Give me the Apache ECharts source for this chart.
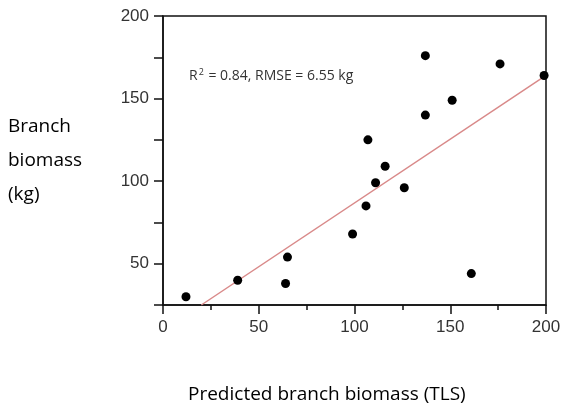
<!DOCTYPE html>
<html>
<head>
<meta charset="utf-8">
<script src="https://cdn.jsdelivr.net/npm/echarts@6/dist/echarts.min.js"></script>
<style>
html,body{margin:0;padding:0;background:#fff;}
#chart{width:566px;height:404px;}
</style>
</head>
<body>
<div id="chart"></div>
<script>
var predictedTLS = [12, 39, 65, 64, 99, 106, 107, 111, 116, 126, 137, 137, 151, 161, 176, 199];
var measuredBiomass = [30, 40, 54, 38, 68, 85, 125, 99, 109, 96, 140, 176, 149, 44, 171, 164];
var fitLineX = [20, 200];
var fitLineY = [25, 164];
var xTicks = [0, 50, 100, 150, 200];
var yTicks = [50, 100, 150, 200];
var xName = 'Predicted branch biomass (TLS)';
var yNameLines = ['Branch', 'biomass', '(kg)'];

var points = predictedTLS.map(function (x, i) { return [x, measuredBiomass[i]]; });
var fit = fitLineX.map(function (x, i) { return [x, fitLineY[i]]; });

var chart = echarts.init(document.getElementById('chart'));
var labelStyle = { color: '#333', fontFamily: 'Liberation Sans, Arial, sans-serif', fontSize: 17 };
chart.setOption({
  animation: false,
  grid: { left: 163, right: 20, top: 16, bottom: 99, show: true, borderColor: '#111', borderWidth: 1.5, backgroundColor: 'transparent' },
  xAxis: {
    type: 'value', min: 0, max: 200, interval: 50,
    axisLine: { show: true, onZero: false, lineStyle: { color: '#111', width: 1.5 } },
    axisTick: { show: true, inside: false, length: 9, lineStyle: { color: '#111', width: 1.5 } },
    minorTick: { show: true, splitNumber: 2, length: 5, lineStyle: { color: '#111', width: 1.5 } },
    splitLine: { show: false },
    axisLabel: Object.assign({ margin: 14, formatter: function (v) { return xTicks.indexOf(v) >= 0 ? String(v) : ''; } }, labelStyle)
  },
  yAxis: {
    type: 'value', min: 25, max: 200, interval: 25,
    axisLine: { show: true, onZero: false, lineStyle: { color: '#111', width: 1.5 } },
    axisTick: { show: true, inside: false, length: 9, lineStyle: { color: '#111', width: 1.5 } },
    splitLine: { show: false },
    axisLabel: Object.assign({ margin: 14, formatter: function (v) { return yTicks.indexOf(v) >= 0 ? String(v) : ''; } }, labelStyle)
  },
  series: [
    {
      type: 'line', data: fit, showSymbol: false, symbol: 'none',
      lineStyle: { color: '#d98a8a', width: 1.5 }, z: 2, silent: true
    },
    {
      type: 'scatter', data: points, symbol: 'circle', symbolSize: 9,
      itemStyle: { color: '#000', opacity: 1 }, z: 3
    }
  ],
  graphic: [
    {
      type: 'text', left: 189, top: 68,
      style: {
        text: '{r|R}{s|2}{r| = 0.84, RMSE = 6.55 kg}',
        rich: {
          r: { fontFamily: 'Open Sans, sans-serif', fontSize: 14, fill: '#333', verticalAlign: 'bottom' },
          s: { fontFamily: 'Open Sans, sans-serif', fontSize: 9, fill: '#333', verticalAlign: 'top', padding: [0, 1, 6, 1] }
        }
      }
    },
    {
      type: 'text', left: 8, top: 110,
      style: {
        text: yNameLines.join('\n'),
        fontFamily: 'Open Sans, sans-serif', fontSize: 19, lineHeight: 34, fill: '#000'
      }
    },
    {
      type: 'text', left: 188, top: 385,
      style: { text: xName, fontFamily: 'Open Sans, sans-serif', fontSize: 19, fill: '#000' }
    }
  ]
});
</script>
</body>
</html>
